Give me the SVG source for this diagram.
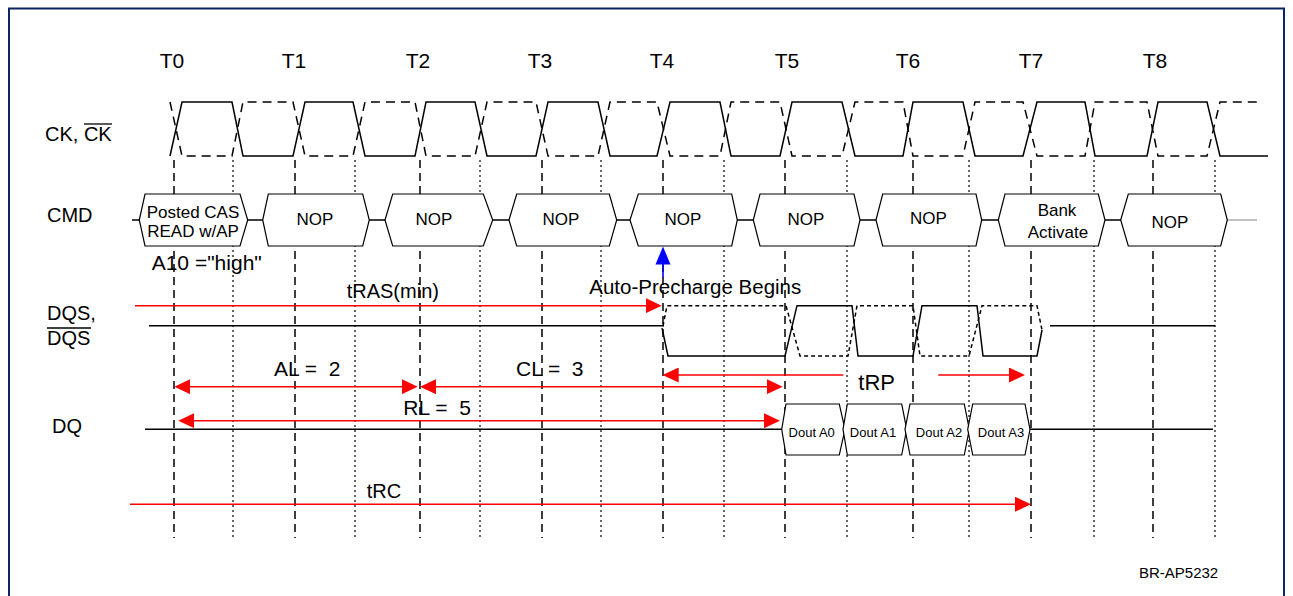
<svg xmlns="http://www.w3.org/2000/svg" width="1293" height="596" viewBox="0 0 1293 596">
<style>
text{font-family:"Liberation Sans",Arial,sans-serif;fill:#000}
.t{font-size:21px}
.lbl{font-size:20px}
.cmd{font-size:17px;text-anchor:middle}
.dout{font-size:13px;text-anchor:middle}
.vd{stroke:#000;stroke-width:1.5;stroke-dasharray:8,5;fill:none}
.vt{stroke:#000;stroke-width:1.2;stroke-dasharray:2,3;fill:none}
.sig{stroke:#000;stroke-width:1.5;fill:none}
.sigd{stroke:#000;stroke-width:1.5;fill:none;stroke-dasharray:9,6}
.sigt{stroke:#000;stroke-width:1.5;fill:none;stroke-dasharray:4,3}
.hex{stroke:#000;stroke-width:1.2;fill:#fff}
.red{stroke:#ff0000;stroke-width:1.6;fill:none}
</style>
<defs>
<marker id="ah" markerUnits="userSpaceOnUse" markerWidth="16" markerHeight="15" refX="8" refY="7.5" orient="auto-start-reverse" viewBox="0 0 16 15">
<path d="M0,0 L16,7.5 L0,15 z" fill="#ff0000"/>
</marker>
</defs>
<rect x="9" y="8.5" width="1275" height="620" fill="none" stroke="#0a2464" stroke-width="2"/>

<g id="gridlines">
<path class="vd" d="M174,160V538M295,160V538M420,160V538M542,160V538M663,160V538M785,160V538M913,160V538M1031,160V538M1153,160V538"/>
<path class="vt" d="M233,160V538M355,160V538M480,160V538M601,160V538M724,160V538M847,160V538M969,160V538M1094,160V538M1215,160V538"/>
</g>

<g id="time-labels" class="t">
<text x="172" y="68" text-anchor="middle">T0</text>
<text x="294" y="68" text-anchor="middle">T1</text>
<text x="418" y="68" text-anchor="middle">T2</text>
<text x="540" y="68" text-anchor="middle">T3</text>
<text x="662" y="68" text-anchor="middle">T4</text>
<text x="787" y="68" text-anchor="middle">T5</text>
<text x="908" y="68" text-anchor="middle">T6</text>
<text x="1031" y="68" text-anchor="middle">T7</text>
<text x="1155" y="68" text-anchor="middle">T8</text>
</g>

<g id="signal-labels" class="lbl">
<text x="45" y="141">CK, CK</text>
<line x1="84" y1="124" x2="112" y2="124" stroke="#000" stroke-width="1.3"/>
<text x="47" y="222">CMD</text>
<text x="47" y="320">DQS,</text>
<text x="47" y="345">DQS</text>
<line x1="47" y1="328" x2="91" y2="328" stroke="#000" stroke-width="1.3"/>
<text x="52" y="433">DQ</text>
</g>

<g id="ck">
<path class="sig" d="M170,156 L182,102 L232,102 L243,156 L293,156 L305,102 L353,102 L365,156 L415,156 L426,102 L475,102 L487,156 L536,156 L548,102 L598,102 L610,156 L657,156 L670,102 L720,102 L731,156 L780,156 L792,102 L842,102 L855,156 L903,156 L913,102 L963,102 L975,156 L1023,156 L1037,102 L1085,102 L1095,156 L1147,156 L1158,102 L1207,102 L1220,156 L1268,156"/>
<path class="sigd" d="M170,102 L182,156 L232,156 L243,102 L293,102 L305,156 L353,156 L365,102 L415,102 L426,156 L475,156 L487,102 L536,102 L548,156 L598,156 L610,102 L657,102 L670,156 L720,156 L731,102 L780,102 L792,156 L842,156 L855,102 L903,102 L913,156 L963,156 L975,102 L1023,102 L1037,156 L1085,156 L1095,102 L1147,102 L1158,156 L1207,156 L1220,102 L1262,102"/>
</g>

<g id="cmd-bus">
<path class="sig" stroke-width="1.2" d="M132,220H140M248,220H263M369,220H385M493,220H509M617,220H630M737,220H753M860,220H876M982,220H998M1105,220H1121"/>
<line x1="1227" y1="220" x2="1257" y2="220" stroke="#999" stroke-width="1.2"/>
</g>
<g id="cmd-read">
<path class="hex" d="M139.3,220 L145,194 L240,194 L247.7,220 L240,246 L145,246 z"/>
<text class="cmd" x="193" y="218">Posted CAS</text>
<text class="cmd" x="193" y="236.5">READ w/AP</text>
</g>
<g id="cmd-nop1"><path class="hex" d="M262.7,220 L268.3,194 L362.7,194 L369.3,220 L362.7,246 L268.3,246 z"/><text class="cmd" x="315" y="225">NOP</text></g>
<g id="cmd-nop2"><path class="hex" d="M385,220 L392.7,194 L483.3,194 L492.7,220 L483.3,246 L392.7,246 z"/><text class="cmd" x="434" y="225">NOP</text></g>
<g id="cmd-nop3"><path class="hex" d="M509,220 L516.7,194 L609.3,194 L616.7,220 L609.3,246 L516.7,246 z"/><text class="cmd" x="561" y="225">NOP</text></g>
<g id="cmd-nop4"><path class="hex" d="M630,220 L638.3,194 L731.7,194 L737.3,220 L731.7,246 L638.3,246 z"/><text class="cmd" x="683" y="225">NOP</text></g>
<g id="cmd-nop5"><path class="hex" d="M753.3,220 L760,194 L854,194 L860,220 L854,246 L760,246 z"/><text class="cmd" x="806" y="225">NOP</text></g>
<g id="cmd-nop6"><path class="hex" d="M876,220 L882.7,194 L976,194 L981.7,220 L976,246 L882.7,246 z"/><text class="cmd" x="928.5" y="224">NOP</text></g>
<g id="cmd-bank">
<path class="hex" d="M998.3,220 L1005,194 L1098.3,194 L1105,220 L1098.3,246 L1005,246 z"/>
<text class="cmd" x="1057" y="215.5">Bank</text>
<text class="cmd" x="1058" y="238.3">Activate</text>
</g>
<g id="cmd-nop7"><path class="hex" d="M1120.7,220 L1128.3,194 L1220.7,194 L1227.3,220 L1220.7,246 L1128.3,246 z"/><text class="cmd" x="1170" y="228">NOP</text></g>

<g id="annotations">
<text x="151.7" y="270" style="font-size:21px">A10 ="high"</text>
<path d="M663,246.5 L670.5,264.5 L655.5,264.5 z" fill="#0000ff"/>
<line x1="663" y1="264" x2="663" y2="277.5" stroke="#0000ff" stroke-width="1.6"/>
<text x="589.3" y="293.5" style="font-size:20.5px">Auto-Precharge Begins</text>
<text x="346.7" y="298" style="font-size:20px">tRAS(min)</text>
<text x="274" y="375.7" style="font-size:21px" xml:space="preserve">AL =  2</text>
<text x="516" y="376" style="font-size:21px" xml:space="preserve">CL =  3</text>
<text x="403.3" y="415" style="font-size:21px" xml:space="preserve">RL =  5</text>
<text x="858.3" y="390" style="font-size:22px">tRP</text>
<text x="366.7" y="497.7" style="font-size:20px">tRC</text>
<text x="1139" y="578" style="font-size:15px">BR-AP5232</text>
</g>

<g id="dqs">
<path class="sig" d="M149,325.7 L664,325.7 M662,328 L668,356 L785,356 L797,305.7 L852,305.7 L858,356 L913,356 L922,305.7 L977,305.7 L983,356 L1037,356 L1042,330 M1050,325.7 L1215,325.7"/>
<path class="sigt" d="M663,326 L667,305.7 L786,305.7 L800,356 L848,356 L857,305.7 L913,305.7 L920,356 L969,356 L982,305.7 L1037,305.7 L1042,330"/>
</g>

<g id="dq">
<path class="sig" stroke-width="1.2" d="M145,429.3 L781.7,429.3 M1030,429.3 L1213,429.3"/>
<g id="dout-a0"><path class="hex" d="M781.7,429.3 L786,404 L839.3,404 L845,429.3 L839.3,455 L786,455 z"/><text class="dout" x="811.7" y="436.7">Dout A0</text></g>
<g id="dout-a1"><path class="hex" d="M843,429.3 L847.3,404 L901.7,404 L906.7,429.3 L901.7,455 L847.3,455 z"/><text class="dout" x="873" y="436.7">Dout A1</text></g>
<g id="dout-a2"><path class="hex" d="M905,429.3 L910,404 L964.3,404 L969.3,429.3 L964.3,455 L910,455 z"/><text class="dout" x="939" y="436.7">Dout A2</text></g>
<g id="dout-a3"><path class="hex" d="M967.7,429.3 L972.7,404 L1025,404 L1030,429.3 L1025,455 L972.7,455 z"/><text class="dout" x="1001" y="436.7">Dout A3</text></g>
</g>

<g id="connectors">
<path class="red" d="M135,305.7 H653.7" marker-end="url(#ah)"/>
<path class="red" d="M182.3,386.7 H409.7" marker-start="url(#ah)" marker-end="url(#ah)"/>
<path class="red" d="M428,386.7 H774.7" marker-start="url(#ah)" marker-end="url(#ah)"/>
<path class="red" d="M670.7,375 H843.3" marker-start="url(#ah)"/>
<path class="red" d="M938.3,375 H1017" marker-end="url(#ah)"/>
<path class="red" d="M186.3,420.7 H772" marker-start="url(#ah)" marker-end="url(#ah)"/>
<path class="red" d="M130,504.3 H1023" marker-end="url(#ah)"/>
</g>
</svg>
